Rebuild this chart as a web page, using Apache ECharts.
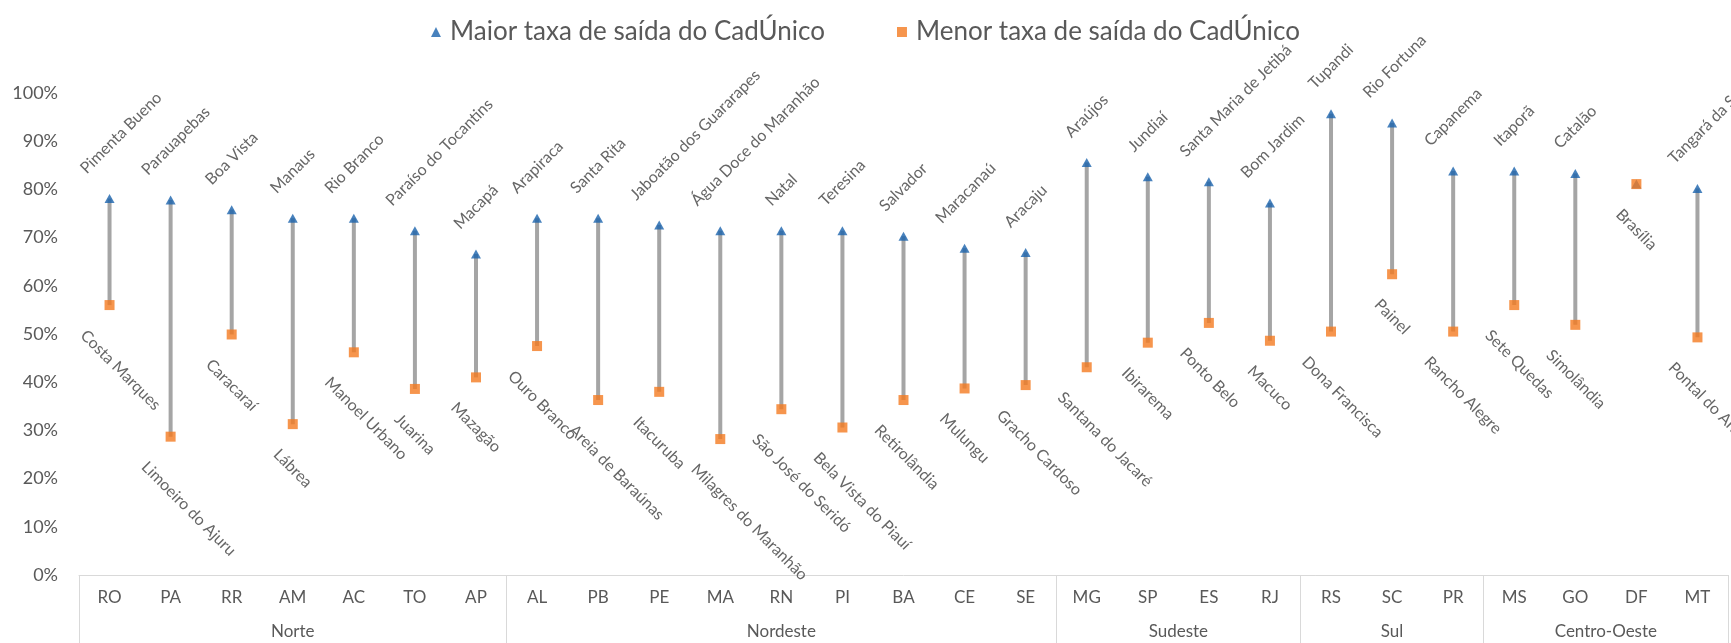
<!DOCTYPE html>
<html>
<head>
<meta charset="utf-8">
<title>Taxa de saída do CadÚnico por UF</title>
<script src="https://cdn.jsdelivr.net/npm/echarts@6/dist/echarts.min.js"></script>
<style>
  html, body { margin: 0; padding: 0; background: #fff; }
  #chart { width: 1731px; height: 643px; }
</style>
</head>
<body>
<div id="chart"></div>
<script>
// categorias (UF) e regiões
const states = ['RO', 'PA', 'RR', 'AM', 'AC', 'TO', 'AP',
  'AL', 'PB', 'PE', 'MA', 'RN', 'PI', 'BA', 'CE', 'SE',
  'MG', 'SP', 'ES', 'RJ', 'RS', 'SC', 'PR', 'MS', 'GO', 'DF', 'MT']
const regions = ['Norte', 'Nordeste', 'Sudeste', 'Sul', 'Centro-Oeste']
const regionSizes = [7, 9, 4, 3, 4]

// maior taxa de saída (%)
const maxCities = ['Pimenta Bueno', 'Parauapebas', 'Boa Vista', 'Manaus', 'Rio Branco', 'Paraíso do Tocantins', 'Macapá',
  'Arapiraca', 'Santa Rita', 'Jaboatão dos Guararapes', 'Água Doce do Maranhão', 'Natal', 'Teresina', 'Salvador', 'Maracanaú', 'Aracaju',
  'Araújos', 'Jundiaí', 'Santa Maria de Jetibá', 'Bom Jardim', 'Tupandi', 'Rio Fortuna', 'Capanema', 'Itaporã', 'Catalão', '', 'Tangará da Serra']
const maxRates = [78.1, 77.8, 75.8, 74.0, 74.0, 71.4, 66.6,
  74.0, 74.0, 72.6, 71.4, 71.4, 71.4, 70.3, 67.8, 66.9,
  85.6, 82.6, 81.6, 77.2, 95.7, 93.8, 83.8, 83.8, 83.3, 81.1, 80.2]

// menor taxa de saída (%)
const minCities = ['Costa Marques', 'Limoeiro do Ajuru', 'Caracaraí', 'Lábrea', 'Manoel Urbano', 'Juarina', 'Mazagão',
  'Ouro Branco', 'Areia de Baraúnas', 'Itacuruba', 'Milagres do Maranhão', 'São José do Seridó', 'Bela Vista do Piauí', 'Retirolândia', 'Mulungu', 'Gracho Cardoso',
  'Santana do Jacaré', 'Ibirarema', 'Ponto Belo', 'Macuco', 'Dona Francisca', 'Painel', 'Rancho Alegre', 'Sete Quedas', 'Simolândia', 'Brasília', 'Pontal do Araguaia']
const minRates = [56.0, 28.7, 49.9, 31.3, 46.2, 38.6, 41.0,
  47.5, 36.3, 38.0, 28.2, 34.4, 30.6, 36.3, 38.7, 39.4,
  43.1, 48.2, 52.3, 48.6, 50.5, 62.4, 50.5, 56.0, 51.9, 81.1, 49.3]

const LABEL_SIZE = 16
const LABEL_FONT = LABEL_SIZE + 'px Lato'
const LABEL_GAP = 22   // distância do marcador até a caixa do rótulo
const LABEL_REACH = 32 // quanto o rótulo pode avançar para a esquerda do marcador
const measureCtx = document.createElement('canvas').getContext('2d')
measureCtx.font = LABEL_FONT

// metade do lado da caixa do rótulo girado 45°
function halfBox(text) {
  const w = measureCtx.measureText(text).width
  return (w + LABEL_SIZE) * Math.SQRT1_2 / 2
}

function cityLabel(text, pt, up) {
  const h = halfBox(text)
  const shift = h - Math.min(h, LABEL_REACH)
  return {
    type: 'text',
    x: pt[0] + shift,
    y: up ? pt[1] - LABEL_GAP - h : pt[1] + LABEL_GAP + h,
    rotation: up ? Math.PI / 4 : -Math.PI / 4,
    style: { text, font: LABEL_FONT, fill: '#666666', align: 'center', verticalAlign: 'middle' }
  }
}

const bounds = [0]
regionSizes.forEach(n => bounds.push(bounds[bounds.length - 1] + n))
const centers = regionSizes.map((n, k) => bounds[k] + n / 2)

const chart = echarts.init(document.getElementById('chart'))
chart.setOption({
  animation: false,
  textStyle: { fontFamily: 'Lato' },
  legend: {
    top: 14,
    left: 'center',
    itemWidth: 10,
    itemHeight: 10,
    itemGap: 72,
    textStyle: { fontSize: 26, color: '#595959', padding: [0, 0, 0, 4] },
    data: ['Maior taxa de saída do CadÚnico', 'Menor taxa de saída do CadÚnico']
  },
  grid: {
    left: 79,
    right: 3,
    top: 93,
    bottom: 68,
    containLabel: false,
    outerBoundsMode: 'none'
  },
  xAxis: [{
    type: 'category',
    data: states,
    boundaryGap: true,
    axisLine: { lineStyle: { color: '#D9D9D9', width: 1 } },
    axisTick: { show: false },
    axisLabel: { fontSize: 17, color: '#595959', margin: 14, interval: 0 },
    splitLine: { show: false }
  }, {
    type: 'value',
    position: 'bottom',
    min: 0,
    max: states.length,
    axisLine: { show: false },
    axisTick: {
      show: true,
      customValues: bounds,
      length: 68,
      lineStyle: { color: '#D9D9D9', width: 1 }
    },
    axisLabel: {
      customValues: centers,
      fontSize: 17,
      color: '#595959',
      margin: 48,
      formatter: v => regions[centers.indexOf(v)] || ''
    },
    splitLine: { show: false }
  }],
  yAxis: {
    type: 'value',
    min: 0,
    max: 100,
    interval: 10,
    axisLine: { show: false },
    axisTick: { show: false },
    splitLine: { show: false },
    axisLabel: { formatter: '{value}%', fontSize: 18, color: '#595959', margin: 21 }
  },
  series: [{
    type: 'custom',
    name: 'faixa',
    silent: true,
    z: 1,
    data: states.map((s, i) => [i, maxRates[i], minRates[i]]),
    encode: { x: 0, y: [1, 2] },
    renderItem(params, api) {
      const i = params.dataIndex
      const hi = api.coord([api.value(0), api.value(1)])
      const lo = api.coord([api.value(0), api.value(2)])
      const children = [{
        type: 'line',
        shape: { x1: hi[0], y1: hi[1], x2: lo[0], y2: lo[1] },
        style: { stroke: '#A5A5A5', lineWidth: 4 }
      }]
      if (maxCities[i]) children.push(cityLabel(maxCities[i], hi, true))
      if (minCities[i]) children.push(cityLabel(minCities[i], lo, false))
      return { type: 'group', children }
    }
  }, {
    type: 'scatter',
    name: 'Maior taxa de saída do CadÚnico',
    symbol: 'triangle',
    symbolSize: [10, 9],
    itemStyle: { color: '#1A63AD' },
    z: 3,
    data: maxRates
  }, {
    type: 'scatter',
    name: 'Menor taxa de saída do CadÚnico',
    symbol: 'rect',
    symbolSize: 10,
    itemStyle: { color: '#F47A20' },
    z: 4,
    data: minRates
  }]
})
</script>
</body>
</html>
